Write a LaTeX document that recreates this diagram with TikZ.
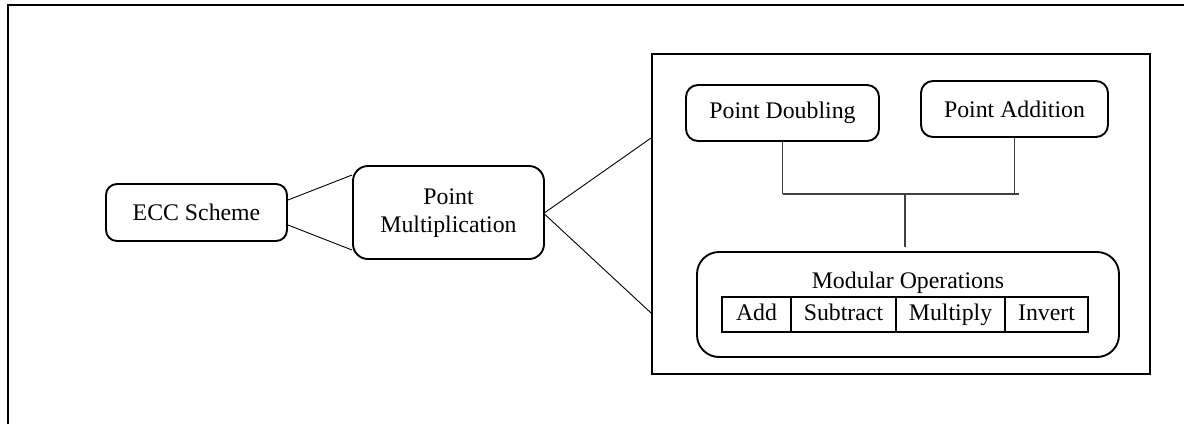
\documentclass[tikz,border=0pt]{standalone}
\usepackage{fontspec}
\setmainfont{Liberation Serif}
\usetikzlibrary{calc}
\begin{document}
\begin{tikzpicture}[x=1pt,y=-1pt,
  every node/.style={font=\fontsize{23.8}{28}\selectfont, inner sep=0pt},
  rbox/.style={draw, line width=1.9pt, rounded corners=#1, align=center},
  rbox/.default=11pt,
  cell/.style={draw, line width=1.7pt, minimum height=35pt, text height=16pt, text depth=5pt},
  link/.style={line width=0.9pt},
  bus/.style={line width=1.1pt, draw=black!75}]
\useasboundingbox (0,0) rectangle (1184,424);
% outer frame (left and top edges)
\draw[line width=1.9pt] (8,424) -- (8,5) -- (1184,5);

% left chain
\node[rbox, minimum width=181pt, minimum height=57pt] (ecc) at (196.5,212.5) {ECC Scheme};
\node[rbox=15pt, minimum width=191pt, minimum height=93pt] (pm) at (448.5,212.5)
  {\raisebox{-7pt}{\begin{tabular}{@{}c@{}}Point\\Multiplication\end{tabular}}};

% right panel
\node[draw, line width=1.9pt, minimum width=498pt, minimum height=320pt] (panel) at (901,214) {};
\node[rbox=12pt, minimum width=193pt, minimum height=56pt] (pd) at (782.5,113) {Point Doubling};
\node[rbox=12pt, minimum width=187pt, minimum height=56pt] (pa) at (1014.5,109) {Point Addition};
\node[rbox=22pt, minimum width=422pt, minimum height=105pt] (mod) at (908,304.5) {};
\node[text height=16pt, text depth=5pt] (modlbl) at (908,283) {Modular Operations};
\node[cell, minimum width=69pt]  (add) at (756.5,314.5) {Add};
\node[cell, minimum width=105pt] (sub) at (843.5,314.5) {Subtract};
\node[cell, minimum width=109pt] (mul) at (950.5,314.5) {Multiply};
\node[cell, minimum width=83pt]  (inv) at (1046.5,314.5) {Invert};

% connectors
\draw[link] ([yshift=12.5pt]ecc.east) -- ([yshift=37.5pt]pm.west);
\draw[link] ([yshift=-12.5pt]ecc.east) -- ([yshift=-37.5pt]pm.west);
\draw[link] (pm.east) -- ([yshift=76pt]panel.west);
\draw[link] ([yshift=-2pt]pm.east) -- ([yshift=-99pt]panel.west);

\coordinate (busmid) at (905,194);
\draw[bus] (pd.south) -- (pd.south |- busmid);
\draw[bus] (pa.south) -- (pa.south |- busmid);
\draw[bus] (pd.south |- busmid) -- ([xshift=4pt]pa.south |- busmid);
\draw[bus] (busmid) -- ([yshift=4pt]busmid |- mod.north);
\end{tikzpicture}
\end{document}
